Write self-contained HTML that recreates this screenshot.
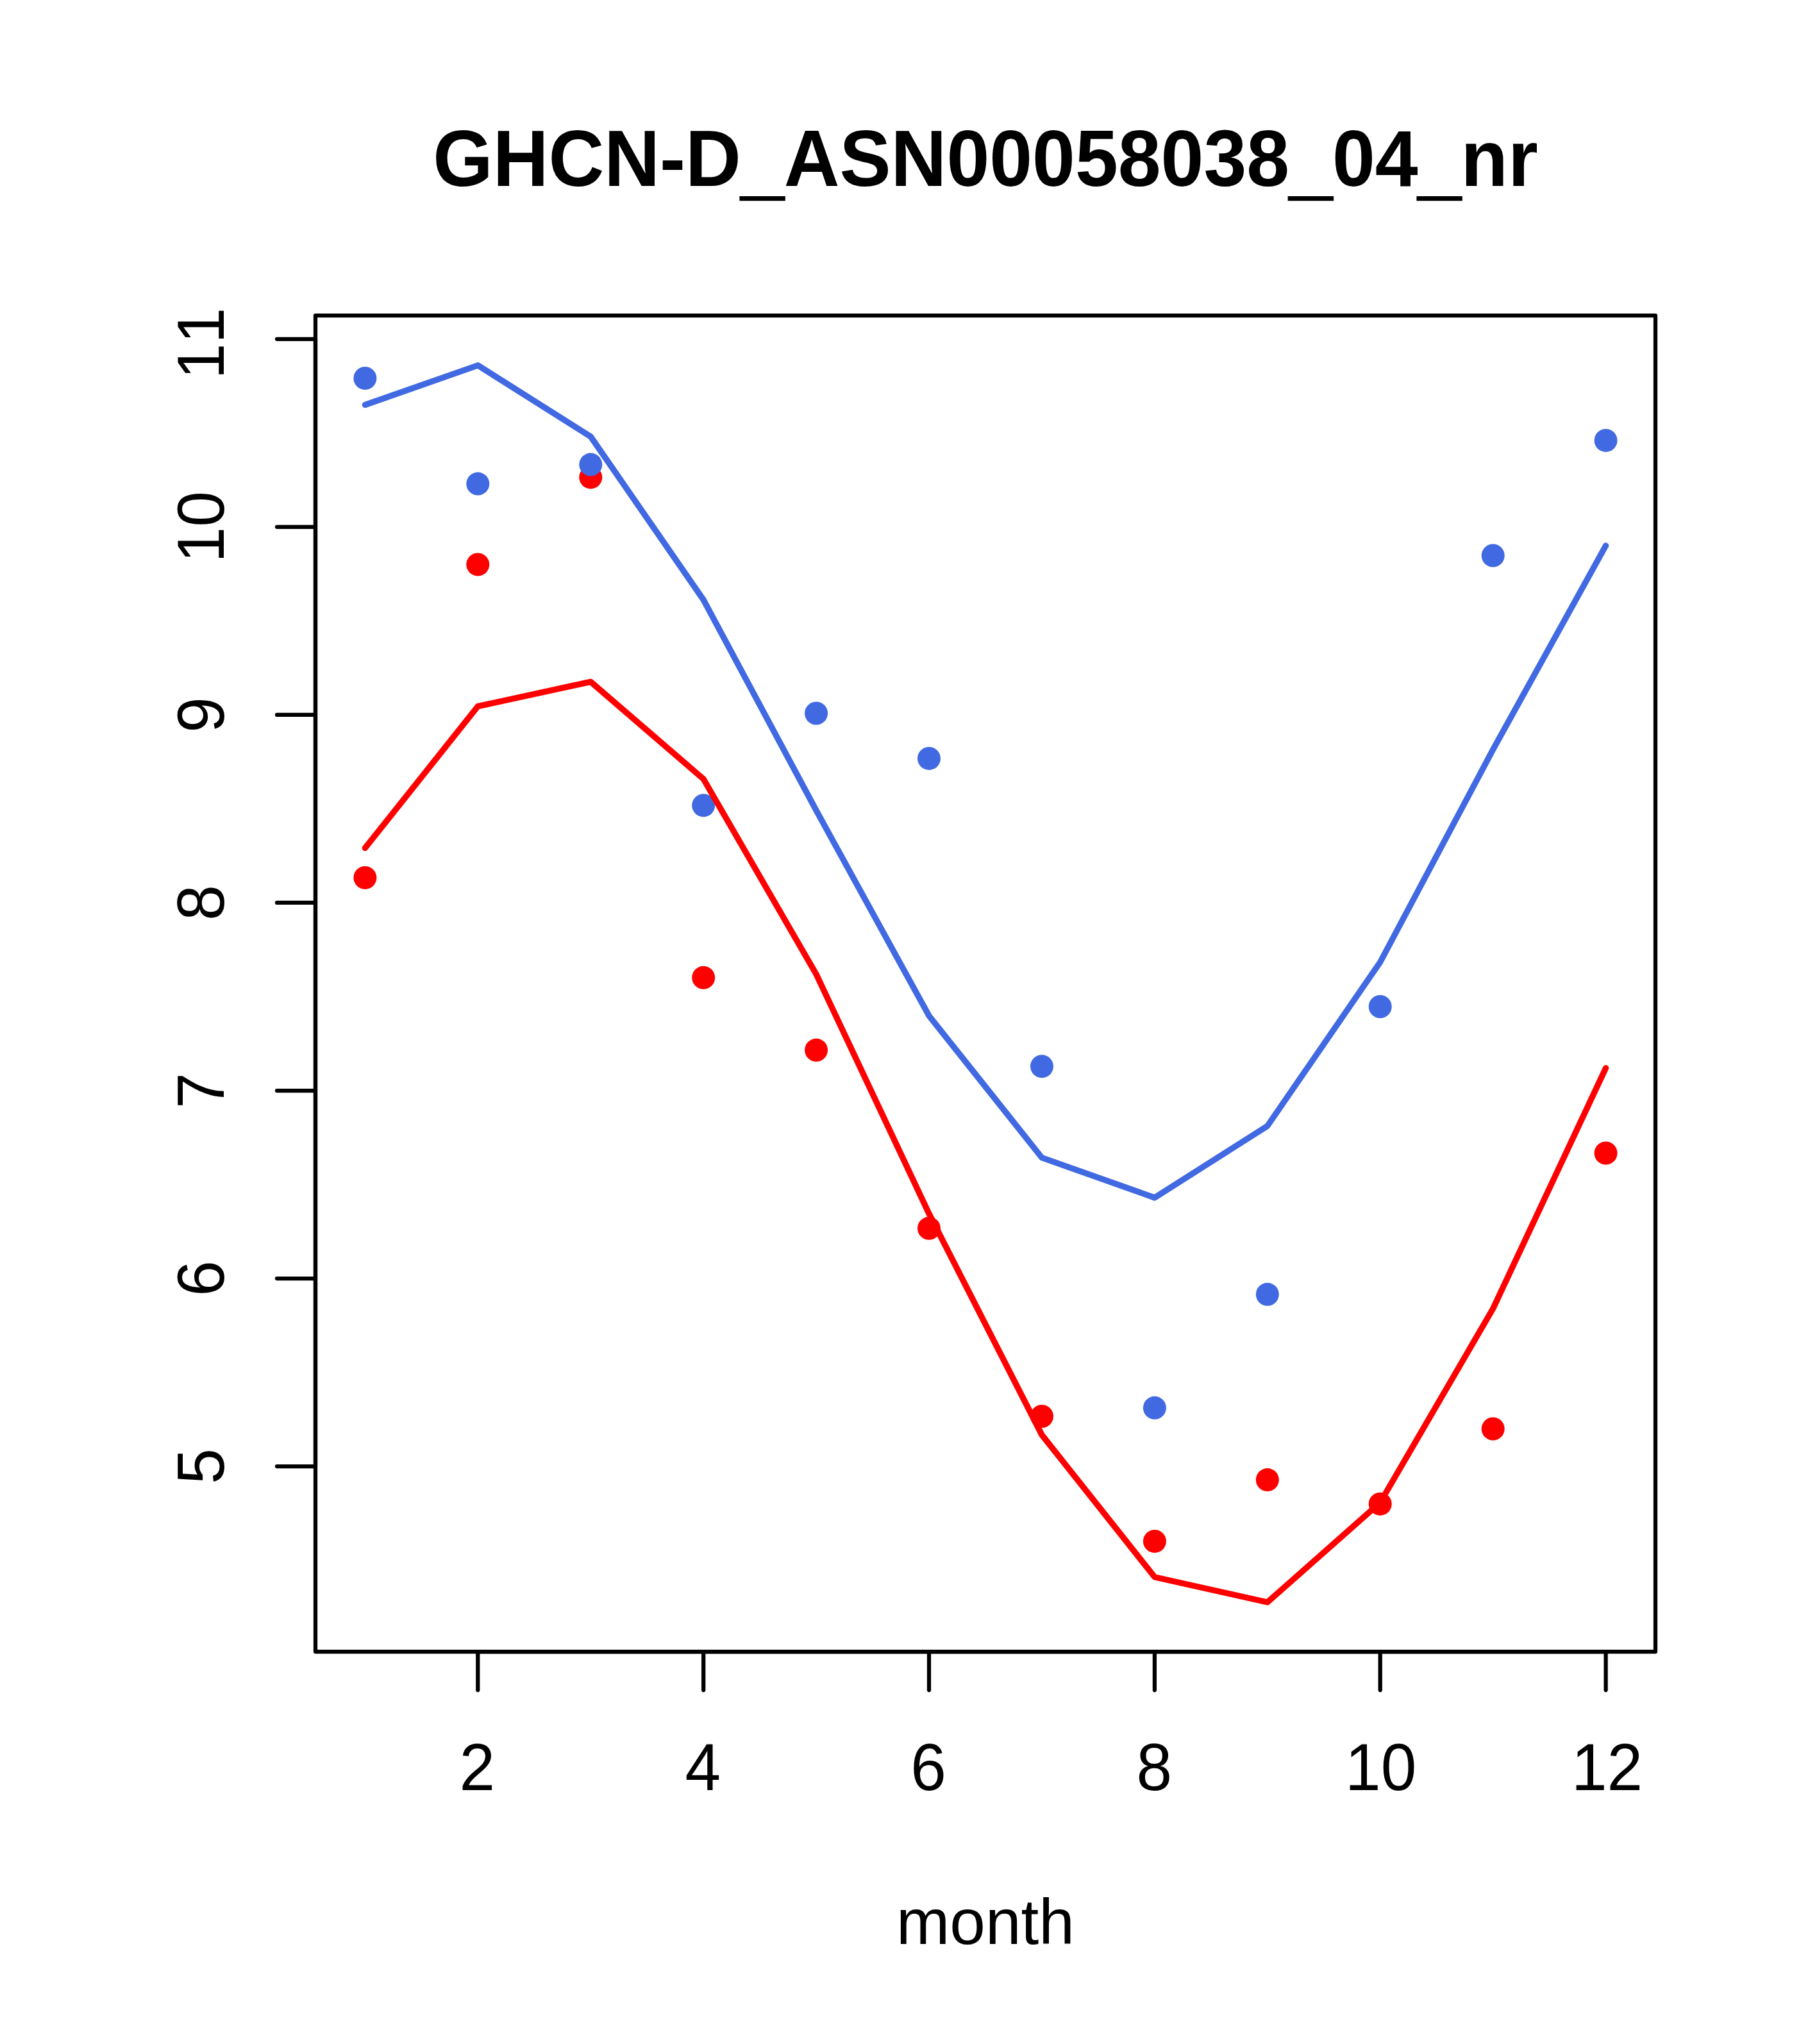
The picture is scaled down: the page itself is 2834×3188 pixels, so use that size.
<!DOCTYPE html>
<html lang="en"><head><meta charset="utf-8"><title>GHCN-D_ASN00058038_04_nr</title>
<style>html,body{margin:0;padding:0;background:#fff}body{width:2834px;height:3188px;overflow:hidden}svg{display:block}text{font-family:"Liberation Sans",Arial,Helvetica,sans-serif;fill:#000;font-kerning:none}</style></head><body>
<svg width="2834" height="3188" viewBox="0 0 2834 3188">
<rect width="2834" height="3188" fill="#fff"/>
<g fill="#FF0000"><circle cx="569.4" cy="1368.9" r="18.00"/><circle cx="745.3" cy="880.4" r="18.00"/><circle cx="921.3" cy="744.4" r="18.00"/><circle cx="1097.2" cy="1524.8" r="18.00"/><circle cx="1273.1" cy="1637.8" r="18.00"/><circle cx="1449.0" cy="1915.8" r="18.00"/><circle cx="1625.0" cy="2209.0" r="18.00"/><circle cx="1800.9" cy="2403.9" r="18.00"/><circle cx="1976.8" cy="2308.1" r="18.00"/><circle cx="2152.7" cy="2345.7" r="18.00"/><circle cx="2328.7" cy="2228.5" r="18.00"/><circle cx="2504.6" cy="1798.5" r="18.00"/></g>
<g fill="#4169E1"><circle cx="569.4" cy="589.9" r="18.00"/><circle cx="745.3" cy="754.6" r="18.00"/><circle cx="921.3" cy="724.6" r="18.00"/><circle cx="1097.2" cy="1256.2" r="18.00"/><circle cx="1273.1" cy="1112.5" r="18.00"/><circle cx="1449.0" cy="1182.9" r="18.00"/><circle cx="1625.0" cy="1663.2" r="18.00"/><circle cx="1800.9" cy="2195.8" r="18.00"/><circle cx="1976.8" cy="2018.8" r="18.00"/><circle cx="2152.7" cy="1570.0" r="18.00"/><circle cx="2328.7" cy="866.5" r="18.00"/><circle cx="2504.6" cy="686.9" r="18.00"/></g>
<polyline fill="none" stroke="#FF0000" stroke-width="9.375" stroke-linecap="round" stroke-linejoin="round" points="569.4,1322.7 745.3,1101.7 921.3,1063.4 1097.2,1215.0 1273.1,1519.5 1449.0,1892.9 1625.0,2238.0 1800.9,2459.7 1976.8,2499.0 2152.7,2343.5 2328.7,2041.0 2504.6,1665.8"/>
<polyline fill="none" stroke="#4169E1" stroke-width="9.375" stroke-linecap="round" stroke-linejoin="round" points="569.4,631.5 745.3,569.8 921.3,681.0 1097.2,935.5 1273.1,1264.0 1449.0,1584.3 1625.0,1805.6 1800.9,1868.0 1976.8,1756.2 2152.7,1500.6 2328.7,1169.0 2504.6,851.0"/>
<g stroke="#000" stroke-width="6.25" stroke-linecap="round" stroke-linejoin="round" fill="none"><path d="M745.3 2576.0H2504.6"/><path d="M745.3 2576.0v60"/><path d="M1097.2 2576.0v60"/><path d="M1449.0 2576.0v60"/><path d="M1800.9 2576.0v60"/><path d="M2152.7 2576.0v60"/><path d="M2504.6 2576.0v60"/><path d="M492.0 2287.0V528.8"/><path d="M492.0 2287.0h-60"/><path d="M492.0 1994.0h-60"/><path d="M492.0 1701.0h-60"/><path d="M492.0 1407.9h-60"/><path d="M492.0 1114.9h-60"/><path d="M492.0 821.8h-60"/><path d="M492.0 528.8h-60"/><rect x="492.0" y="492.0" width="2090.0" height="2084.0"/></g>
<g font-size="100" text-anchor="middle">
<text transform="translate(744.3 2792) scale(1 1.031)">2</text>
<text transform="translate(1096.2 2792) scale(1 1.031)">4</text>
<text transform="translate(1448.0 2792) scale(1 1.031)">6</text>
<text transform="translate(1800.4 2792) scale(1 1.031)">8</text>
<text transform="translate(2153.7 2792) scale(1 1.031)">10</text>
<text transform="translate(2506.6 2792) scale(1 1.031)">12</text>
<text transform="translate(348.6 2287.0) rotate(-90) scale(1 1.031)">5</text>
<text transform="translate(348.6 1994.0) rotate(-90) scale(1 1.031)">6</text>
<text transform="translate(348.6 1701.0) rotate(-90) scale(1 1.031)">7</text>
<text transform="translate(348.6 1407.9) rotate(-90) scale(1 1.031)">8</text>
<text transform="translate(348.6 1114.9) rotate(-90) scale(1 1.031)">9</text>
<text transform="translate(348.6 821.8) rotate(-90) scale(1 1.031)">10</text>
<text transform="translate(348.6 535.6) rotate(-90) scale(1 1.031)">11</text>
<text x="1537" y="3032">month</text>
</g>
<text transform="translate(1536.9 290.3) scale(1.0016 1.042)" font-size="120" font-weight="bold" text-anchor="middle"><tspan>GHCN-D</tspan><tspan dy="6" stroke="#000" stroke-width="2.4">_</tspan><tspan dy="-6">ASN00058038</tspan><tspan dy="6" stroke="#000" stroke-width="2.4">_</tspan><tspan dy="-6">04</tspan><tspan dy="6" stroke="#000" stroke-width="2.4">_</tspan><tspan dy="-6">nr</tspan></text>
</svg></body></html>
